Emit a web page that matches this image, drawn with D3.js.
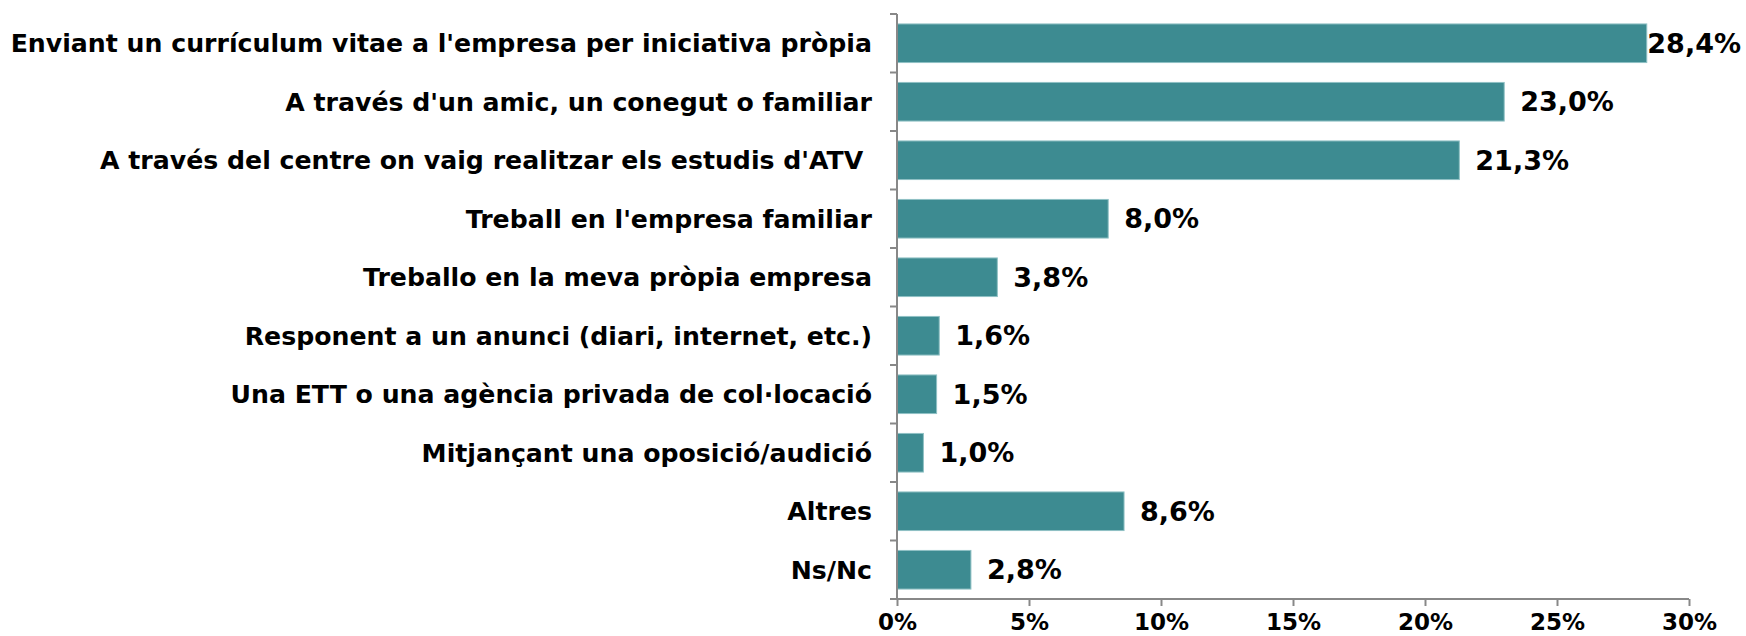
<!DOCTYPE html>
<html>
<head>
<meta charset="utf-8">
<script src="https://cdn.jsdelivr.net/npm/d3@7"></script>
<style>
  body { margin: 0; background: #fff; }
  svg text { font-family: "DejaVu Sans", Verdana, sans-serif; font-weight: bold; fill: #000; white-space: pre; }
</style>
</head>
<body>
<div id="chart"></div>
<script>
const categories = [
  "Enviant un currículum vitae a l'empresa per iniciativa pròpia",
  "A través d'un amic, un conegut o familiar",
  "A través del centre on vaig realitzar els estudis d'ATV ",
  "Treball en l'empresa familiar",
  "Treballo en la meva pròpia empresa",
  "Responent a un anunci (diari, internet, etc.)",
  "Una ETT o una agència privada de col·locació",
  "Mitjançant una oposició/audició",
  "Altres",
  "Ns/Nc"
];
const values = [28.4, 23.0, 21.3, 8.0, 3.8, 1.6, 1.5, 1.0, 8.6, 2.8];
const ticks = [0, 5, 10, 15, 20, 25, 30];

const width = 1746;
const height = 636;
const plotLeft = 897;
const plotRight = 1689;
const plotTop = 14;
const plotBottom = 599;

const fmt = v => v.toFixed(1).replace('.', ',') + '%';

const svg = d3.select('#chart')
  .append('svg')
  .attr('width', width)
  .attr('height', height);

const x = d3.scaleLinear().domain([0, 30]).range([plotLeft, plotRight]);
const y = d3.scaleBand()
  .domain(categories)
  .range([plotTop, plotBottom])
  .paddingInner(0.34)
  .paddingOuter(0.17);

// bars
svg.selectAll('rect.bar')
  .data(values)
  .enter()
  .append('rect')
  .attr('class', 'bar')
  .attr('x', x(0))
  .attr('y', (d, i) => y(categories[i]))
  .attr('width', d => x(d) - x(0))
  .attr('height', y.bandwidth())
  .attr('fill', '#3d8b91')
  .attr('stroke', '#8fc0c4')
  .attr('stroke-width', 1);

// value labels
svg.selectAll('text.val')
  .data(values)
  .enter()
  .append('text')
  .attr('class', 'val')
  .attr('y', (d, i) => y(categories[i]) + y.bandwidth() / 2)
  .attr('dy', '0.36em')
  .style('font-size', '27px')
  .text(d => fmt(d))
  .attr('x', function(d) {
    const w = this.getComputedTextLength();
    return Math.min(x(d) + 16, width - 5 - w);
  });

svg.append('line')
  .attr('x1', plotLeft).attr('x2', plotLeft)
  .attr('y1', plotTop).attr('y2', plotBottom)
  .attr('stroke', '#888').attr('stroke-width', 2);

// y ticks at band boundaries
const bounds = categories.map(c => y(c) - y.step() * y.paddingInner() / 2);
bounds.push(plotBottom);
bounds[0] = plotTop;
svg.selectAll('line.ytick')
  .data(bounds)
  .enter()
  .append('line')
  .attr('x1', plotLeft - 7).attr('x2', plotLeft)
  .attr('y1', d => d).attr('y2', d => d)
  .attr('stroke', '#888').attr('stroke-width', 2);

// category labels
svg.selectAll('text.cat')
  .data(categories)
  .enter()
  .append('text')
  .attr('class', 'cat')
  .attr('x', plotLeft - 25)
  .attr('y', d => y(d) + y.bandwidth() / 2)
  .attr('dy', '0.36em')
  .attr('text-anchor', 'end')
  .style('font-size', '25.2px')
  .text(d => d);

// x axis
const xAxis = d3.axisBottom(x)
  .tickValues(ticks)
  .tickSize(7)
  .tickPadding(8)
  .tickFormat(d => d + '%');
const gx = svg.append('g').attr('transform', 'translate(0,' + plotBottom + ')').call(xAxis);
gx.select('.domain').attr('stroke', '#888').attr('stroke-width', 2).attr('d', 'M' + plotLeft + ',0H' + plotRight);
gx.selectAll('.tick line').attr('stroke', '#888').attr('stroke-width', 2);
gx.selectAll('.tick text')
  .style('font-size', '23px')
  .style('font-family', '"DejaVu Sans", Verdana, sans-serif')
  .style('font-weight', 'bold')
  .attr('fill', '#000');
</script>
</body>
</html>
